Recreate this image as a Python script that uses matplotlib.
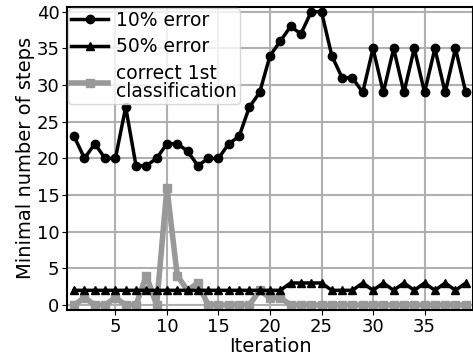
import matplotlib
matplotlib.use("Agg")
import matplotlib.pyplot as plt

iterations = list(range(1, 40))
err10 = [23, 20, 22, 20, 20, 27, 19, 19, 20, 22, 22, 21, 19, 20, 20, 22, 23, 27, 29, 34,
         36, 38, 37, 40, 40, 34, 31, 31, 29, 35, 29, 35, 29, 35, 29, 35, 29, 35, 29]
err50 = [2, 2, 2, 2, 2, 2, 2, 2, 2, 2, 2, 2, 2, 2, 2, 2, 2, 2, 2, 2,
         2, 3, 3, 3, 3, 2, 2, 2, 3, 2, 3, 2, 3, 2, 3, 2, 3, 2, 3]
correct1st = [0, 1, 0, 0, 1, 0, 0, 4, 0, 16, 4, 2, 3, 0, 0, 0, 0, 0, 2, 1,
              1, 0, 0, 0, 0, 0, 0, 0, 0, 0, 0, 0, 0, 0, 0, 0, 0, 0, 0]
labels = ["10% error", "50% error", "correct 1st\nclassification"]
xticks = [5, 10, 15, 20, 25, 30, 35]
yticks = [0, 5, 10, 15, 20, 25, 30, 35, 40]

plt.rcParams['font.family'] = ['DejaVu Sans']
fig = plt.figure(figsize=(4.73, 3.6), dpi=100)
ax = fig.add_axes([0.142, 0.139, 0.858, 0.842])

ax.plot(iterations, err10, color='black', marker='o', markersize=6, linewidth=2.5, label=labels[0], zorder=3)
ax.plot(iterations, err50, color='black', marker='^', markersize=6, linewidth=2.5, label=labels[1], zorder=3)
ax.plot(iterations, correct1st, color='#999999', marker='s', markersize=6, linewidth=4, label=labels[2], zorder=2)

ax.set_xlim(0.32, 39.7)
ax.set_ylim(-0.68, 40.68)
ax.set_xticks(xticks)
ax.set_yticks(yticks)
ax.tick_params(labelsize=13, pad=2)
ax.grid(True, color='#b0b0b0', linewidth=1.5)
ax.set_axisbelow(True)
for s in ax.spines.values():
    s.set_linewidth(1.5)
ax.set_xlabel("Iteration", fontsize=14, labelpad=1)
ax.set_ylabel("Minimal number of steps", fontsize=14, labelpad=1)
leg = ax.legend(loc='upper left', fontsize=13.5, handlelength=2.0, borderaxespad=0.05,
                labelspacing=0.4, handletextpad=0.4, borderpad=0.15)
for t in leg.get_texts():
    t.set_linespacing(0.95)

fig.savefig("out.png", dpi=100)
